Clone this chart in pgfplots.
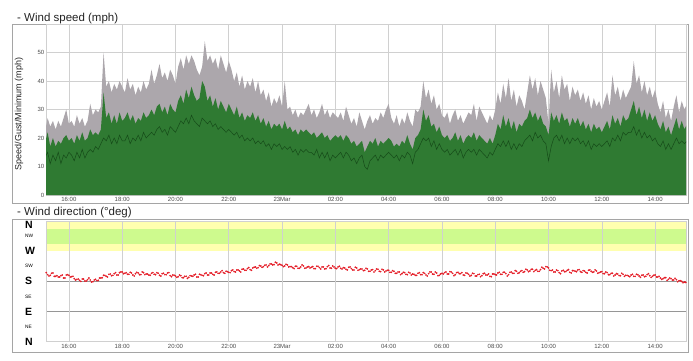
\documentclass[border=0pt]{standalone}
\usepackage{pgfplots}
\pgfplotsset{compat=1.18}
\usepackage{pgfplotstable}
\usepackage{fontspec}
\setmainfont{Liberation Sans}

\definecolor{gustgray}{RGB}{172,167,172}
\definecolor{spdgreen}{RGB}{47,122,50}
\definecolor{mingreen}{RGB}{22,75,25}
\definecolor{bandyellow}{RGB}{255,255,175}
\definecolor{bandgreen}{RGB}{206,250,142}
\definecolor{dotred}{RGB}{228,30,40}
\definecolor{framegray}{RGB}{165,165,165}
\definecolor{gridgray}{RGB}{208,208,208}
\definecolor{linegray}{RGB}{150,150,150}
\definecolor{ticktext}{RGB}{75,75,75}
\definecolor{titletext}{RGB}{35,35,35}

\newcommand{\bigdir}[1]{{\fontsize{10.5}{11}\selectfont\bfseries #1}}
\newcommand{\smalldir}[1]{{\fontsize{4.8}{5}\selectfont #1}}

\pgfplotstableread{
t gust speed min
15.1 22 18 13
15.2 27 22 15
15.3 24 17 11
15.4 26 20 14
15.5 23 17 12
15.6 26 19 15
15.7 24 18 11
15.8 27 20 14
15.9 30 21 13
16.0 25 19 15
16.1 26 20 14
16.2 24 18 12
16.3 28 21 15
16.4 25 19 13
16.5 27 22 16
16.6 24 19 13
16.7 26 20 15
16.8 32 23 16
16.9 28 21 15
17.0 30 22 17
17.1 29 21 16
17.2 31 23 18
17.3 50 36 20
17.4 38 27 19
17.5 40 29 21
17.6 36 25 18
17.7 39 28 20
17.8 37 25 18
17.9 40 29 21
18.0 38 26 19
18.1 36 27 19
18.2 41 29 21
18.3 37 26 18
18.4 39 28 20
18.5 35 25 19
18.6 38 27 21
18.7 36 26 19
18.8 40 29 22
18.9 37 27 20
19.0 39 28 21
19.1 44 30 22
19.2 39 28 21
19.3 42 31 23
19.4 46 32 24
19.5 41 29 22
19.6 43 31 23
19.7 40 28 21
19.8 44 32 24
19.9 42 30 23
20.0 39 29 22
20.1 45 33 24
20.2 48 35 26
20.3 44 32 25
20.4 49 37 27
20.5 46 34 25
20.6 49 38 28
20.7 47 35 26
20.8 44 33 25
20.9 42 34 24
21.0 45 40 27
21.1 54 38 26
21.2 47 33 25
21.3 49 35 26
21.4 46 31 24
21.5 48 34 25
21.6 44 30 23
21.7 49 33 24
21.8 46 31 23
21.9 43 29 22
22.0 47 32 23
22.1 44 30 22
22.2 40 28 21
22.3 43 31 22
22.4 38 27 20
22.5 42 29 21
22.6 37 26 19
22.7 40 28 20
22.8 38 27 19
22.9 41 29 20
23.0 36 26 18
23.1 40 28 19
23.2 35 25 18
23.3 37 27 19
23.4 33 24 17
23.5 36 26 18
23.6 31 23 16
23.7 34 25 18
23.8 32 24 17
23.9 35 25 18
24.0 31 23 16
24.1 40 26 17
24.2 30 23 16
24.3 31 24 17
24.4 28 22 15
24.5 30 23 16
24.6 27 21 14
24.7 29 23 16
24.8 28 22 15
24.9 30 23 16
25.0 32 22 15
25.1 28 21 15
25.2 30 22 14
25.3 27 20 16
25.4 29 21 13
25.5 32 22 15
25.6 28 20 13
25.7 30 21 15
25.8 27 19 12
25.9 29 20 14
26.0 28 21 13
26.1 27 20 14
26.2 29 21 15
26.3 26 19 13
26.4 31 21 15
26.5 28 20 14
26.6 25 18 12
26.7 27 19 13
26.8 24 17 11
26.9 29 18 13
27.0 26 19 14
27.1 23 15 10
27.2 26 17 9
27.3 28 19 12
27.4 25 18 13
27.5 27 20 14
27.6 26 17 12
27.7 29 19 14
27.8 27 18 13
27.9 30 19 14
28.0 32 20 15
28.1 27 19 14
28.2 25 17 13
28.3 28 18 14
28.4 24 17 12
28.5 27 19 14
28.6 25 18 13
28.7 29 21 15
28.8 26 18 14
28.9 24 16 11
29.0 30 20 15
29.1 29 21 16
29.2 31 23 18
29.3 40 30 20
29.4 34 26 19
29.5 37 28 20
29.6 32 24 17
29.7 35 25 19
29.8 30 22 16
29.9 32 24 18
30.0 28 21 16
30.1 27 20 15
30.2 29 21 16
30.3 25 19 14
30.4 28 20 15
30.5 30 22 16
30.6 26 19 14
30.7 28 21 16
30.8 25 18 13
30.9 27 20 15
31.0 29 21 16
31.1 28 20 15
31.2 32 22 16
31.3 26 19 14
31.4 31 21 16
31.5 29 20 15
31.6 27 19 14
31.7 25 18 13
31.8 28 20 15
31.9 26 18 14
32.0 30 21 16
32.1 36 25 18
32.2 32 23 17
32.3 39 28 19
32.4 34 24 17
32.5 41 27 19
32.6 33 23 16
32.7 37 26 18
32.8 31 22 16
32.9 35 25 18
33.0 33 24 17
33.1 30 26 19
33.2 36 27 20
33.3 42 30 21
33.4 37 27 19
33.5 41 29 22
33.6 35 26 20
33.7 40 28 21
33.8 37 25 19
33.9 34 24 18
34.0 25 21 12
34.1 44 29 17
34.2 36 26 20
34.3 40 28 21
34.4 34 25 19
34.5 42 29 21
34.6 37 26 18
34.7 39 27 20
34.8 33 24 18
34.9 38 27 20
35.0 35 25 19
35.1 37 27 20
35.2 33 24 18
35.3 36 26 19
35.4 32 23 17
35.5 35 25 19
35.6 30 22 16
35.7 34 25 18
35.8 31 23 17
35.9 33 24 18
36.0 30 22 17
36.1 33 24 18
36.2 36 26 19
36.3 31 23 17
36.4 42 28 20
36.5 35 25 19
36.6 38 27 21
36.7 33 24 19
36.8 37 28 22
36.9 34 26 21
37.0 36 27 22
37.1 38 30 22
37.2 47 33 24
37.3 39 28 21
37.4 42 31 23
37.5 36 27 20
37.6 40 30 22
37.7 35 26 20
37.8 38 29 21
37.9 34 26 19
38.0 37 28 20
38.1 32 25 18
38.2 29 23 17
38.3 33 26 19
38.4 27 22 16
38.5 30 24 18
38.6 26 21 16
38.7 31 24 18
38.8 35 27 20
38.9 29 23 18
39.0 33 26 19
39.1 30 23 18
39.2 32 25 19
}\windtable

\pgfplotstableread{
t dir
15.1 203
15.15 206
15.2 200
15.25 196
15.3 198
15.35 204
15.4 205
15.45 195
15.5 195
15.55 197
15.6 193
15.65 193
15.7 197
15.75 199
15.8 190
15.85 190
15.9 199
15.95 200
16.0 198
16.05 193
16.1 194
16.15 195
16.2 188
16.25 184
16.3 186
16.35 187
16.4 183
16.45 180
16.5 187
16.55 187
16.6 181
16.65 181
16.7 185
16.75 190
16.8 184
16.85 178
16.9 179
16.95 184
17.0 186
17.05 182
17.1 183
17.15 190
17.2 190
17.25 191
17.3 198
17.35 198
17.4 195
17.45 193
17.5 201
17.55 202
17.6 197
17.65 198
17.7 203
17.75 206
17.8 199
17.85 199
17.9 206
17.95 208
18.0 208
18.05 203
18.1 204
18.15 206
18.2 201
18.25 201
18.3 207
18.35 205
18.4 199
18.45 196
18.5 203
18.55 207
18.6 205
18.65 200
18.7 200
18.75 208
18.8 206
18.85 200
18.9 202
18.95 202
19.0 199
19.05 198
19.1 204
19.15 206
19.2 201
19.25 200
19.3 206
19.35 204
19.4 198
19.45 196
19.5 203
19.55 204
19.6 200
19.65 200
19.7 205
19.75 206
19.8 197
19.85 194
19.9 199
19.95 198
20.0 196
20.05 192
20.1 194
20.15 199
20.2 197
20.25 191
20.3 191
20.35 195
20.4 195
20.45 189
20.5 192
20.55 197
20.6 196
20.65 195
20.7 199
20.75 201
20.8 193
20.85 193
20.9 201
20.95 200
21.0 198
21.05 197
21.1 203
21.15 205
21.2 199
21.25 199
21.3 205
21.35 205
21.4 201
21.45 199
21.5 207
21.55 208
21.6 204
21.65 204
21.7 208
21.75 212
21.8 206
21.85 204
21.9 210
21.95 209
22.0 207
22.05 206
22.1 212
22.15 214
22.2 209
22.25 208
22.3 214
22.35 214
22.4 211
22.45 208
22.5 216
22.55 217
22.6 213
22.65 213
22.7 218
22.75 221
22.8 215
22.85 213
22.9 220
22.95 222
23.0 223
23.05 219
23.1 221
23.15 227
23.2 226
23.25 222
23.3 224
23.35 228
23.4 229
23.45 223
23.5 227
23.55 232
23.6 232
23.65 229
23.7 230
23.75 237
23.8 235
23.85 229
23.9 231
23.95 230
24.0 228
24.05 224
24.1 226
24.15 231
24.2 229
24.25 223
24.3 224
24.35 224
24.4 221
24.45 218
24.5 225
24.55 225
24.6 219
24.65 219
24.7 223
24.75 229
24.8 226
24.85 219
24.9 220
24.95 223
25.0 224
25.05 220
25.1 222
25.15 224
25.2 218
25.25 218
25.3 225
25.35 225
25.4 221
25.45 217
25.5 223
25.55 223
25.6 217
25.65 218
25.7 224
25.75 227
25.8 220
25.85 219
25.9 226
25.95 223
26.0 219
26.05 218
26.1 223
26.15 225
26.2 219
26.25 217
26.3 221
26.35 220
26.4 216
26.45 214
26.5 222
26.55 223
26.6 218
26.65 214
26.7 214
26.75 222
26.8 220
26.85 213
26.9 215
26.95 217
27.0 217
27.05 212
27.1 213
27.15 219
27.2 217
27.25 210
27.3 210
27.35 214
27.4 215
27.45 208
27.5 212
27.55 217
27.6 216
27.65 210
27.7 209
27.75 216
27.8 214
27.85 208
27.9 211
27.95 213
28.0 213
28.05 207
28.1 207
28.15 212
28.2 210
28.25 204
28.3 204
28.35 208
28.4 208
28.45 200
28.5 203
28.55 207
28.6 206
28.65 201
28.7 200
28.75 207
28.8 205
28.85 199
28.9 202
28.95 201
29.0 198
29.05 198
29.1 204
29.15 206
29.2 200
29.25 200
29.3 206
29.35 204
29.4 199
29.45 196
29.5 203
29.55 208
29.6 208
29.65 202
29.7 201
29.75 208
29.8 205
29.85 197
29.9 198
29.95 202
30.0 204
30.05 202
30.1 206
30.15 208
30.2 202
30.25 202
30.3 209
30.35 208
30.4 204
30.45 197
30.5 200
30.55 206
30.6 207
30.65 203
30.7 203
30.75 206
30.8 199
30.85 198
30.9 205
30.95 204
31.0 201
31.05 196
31.1 198
31.15 204
31.2 203
31.25 196
31.3 196
31.35 200
31.4 201
31.45 194
31.5 197
31.55 203
31.6 204
31.65 199
31.7 199
31.75 202
31.8 195
31.85 194
31.9 202
31.95 202
32.0 200
32.05 199
32.1 205
32.15 207
32.2 201
32.25 201
32.3 207
32.35 207
32.4 203
32.45 196
32.5 200
32.55 207
32.6 208
32.65 204
32.7 204
32.75 212
32.8 210
32.85 204
32.9 206
32.95 210
33.0 212
33.05 207
33.1 209
33.15 216
33.2 214
33.25 209
33.3 211
33.35 216
33.4 216
33.45 209
33.5 213
33.55 215
33.6 210
33.65 210
33.7 215
33.75 222
33.8 219
33.85 217
33.9 224
33.95 223
34.0 220
34.05 213
34.1 212
34.15 214
34.2 208
34.25 208
34.3 214
34.35 212
34.4 206
34.45 203
34.5 211
34.55 213
34.6 209
34.65 209
34.7 213
34.75 215
34.8 207
34.85 205
34.9 212
34.95 212
35.0 210
35.05 209
35.1 214
35.15 215
35.2 209
35.25 207
35.3 212
35.35 211
35.4 207
35.45 205
35.5 213
35.55 214
35.6 210
35.65 207
35.7 208
35.75 214
35.8 211
35.85 204
35.9 206
35.95 208
36.0 209
36.05 203
36.1 203
36.15 208
36.2 206
36.25 200
36.3 200
36.35 204
36.4 204
36.45 196
36.5 199
36.55 203
36.6 202
36.65 197
36.7 197
36.75 204
36.8 201
36.85 195
36.9 198
36.95 198
37.0 196
37.05 194
37.1 199
37.15 201
37.2 195
37.25 195
37.3 201
37.35 200
37.4 196
37.45 192
37.5 198
37.55 199
37.6 194
37.65 195
37.7 200
37.75 203
37.8 197
37.85 192
37.9 195
37.95 198
38.0 199
38.05 193
38.1 193
38.15 195
38.2 190
38.25 186
38.3 188
38.35 191
38.4 191
38.45 183
38.5 186
38.55 190
38.6 188
38.65 184
38.7 184
38.75 189
38.8 185
38.85 179
38.9 182
38.95 182
39.0 180
39.05 176
39.1 178
39.15 177
39.2 177
}\dirtable

\begin{document}
\begin{tikzpicture}
\path (0pt,0pt) rectangle (693pt,-360pt);

% panel frames
\draw[framegray, line width=0.6pt] (12pt,-24pt) rectangle (688pt,-203pt);
\draw[framegray, line width=0.6pt] (12pt,-219.5pt) rectangle (688pt,-352pt);

% titles
\node[anchor=base west, inner sep=0pt, text=titletext, font=\fontsize{11.5}{12}\selectfont] at (17pt,-21pt) {- Wind speed (mph)};
\node[anchor=base west, inner sep=0pt, text=titletext, font=\fontsize{11.5}{12}\selectfont] at (17pt,-215.5pt) {- Wind direction (°deg)};
\node[rotate=90, inner sep=0pt, text=titletext, font=\fontsize{9}{10}\selectfont] at (19pt,-114pt) {Speed/Gust/Minimum (mph)};

% ---------- wind speed ----------
\begin{axis}[
  at={(46pt,-24pt)}, anchor=north west,
  width=640pt, height=171pt, scale only axis,
  xmin=15.14, xmax=39.16, ymin=0, ymax=60,
  xtick={16,18,...,38},
  xticklabels={16:00,18:00,20:00,22:00,23Mar,02:00,04:00,06:00,08:00,10:00,12:00,14:00},
  ytick={0,10,...,50},
  yticklabels={0,10,20,30,40,50},
  ticklabel style={font=\fontsize{6}{7}\selectfont, text=ticktext},
  yticklabel style={inner sep=1.5pt},
  xticklabel style={inner sep=2pt},
  major tick length=0pt,
  grid=major, grid style={gridgray, line width=0.6pt},
  axis line style={gridgray, line width=0.6pt},
]
\addplot[draw=none, fill=gustgray] table[x=t, y=gust] {\windtable} \closedcycle;
\addplot[draw=none, fill=spdgreen] table[x=t, y=speed] {\windtable} \closedcycle;
\addplot[mingreen, line width=0.5pt] table[x=t, y=min] {\windtable};
\end{axis}

% ---------- wind direction ----------
\begin{axis}[
  at={(46pt,-221pt)}, anchor=north west,
  width=640pt, height=120.7pt, scale only axis,
  xmin=15.14, xmax=39.16, ymin=0, ymax=360,
  xtick={16,18,...,38},
  xticklabels={16:00,18:00,20:00,22:00,23Mar,02:00,04:00,06:00,08:00,10:00,12:00,14:00},
  ytick={0,45,...,360},
  yticklabels={\bigdir{N},\smalldir{NE},\bigdir{E},\smalldir{SE},\bigdir{S},\smalldir{SW},\bigdir{W},\smalldir{NW},\raisebox{-7pt}[0pt][0pt]{\bigdir{N}}},
  xticklabel style={font=\fontsize{6}{7}\selectfont, text=ticktext, inner sep=2pt},
  yticklabel style={anchor=west, inner sep=0pt, xshift=-21pt, text=black},
  major tick length=0pt,
  xmajorgrids=true, ymajorgrids=false,
  grid style={gridgray, line width=0.6pt},
  axis line style={gridgray, line width=0.6pt},
  axis on top,
  clip=true,
]
\addplot[draw=none, fill=bandyellow] coordinates {(15,270) (40,270) (40,360) (15,360)} -- cycle;
\addplot[draw=none, fill=bandgreen] coordinates {(15,292.5) (40,292.5) (40,337.5) (15,337.5)} -- cycle;
\addplot[linegray, line width=0.6pt] coordinates {(15,180) (40,180)};
\addplot[linegray, line width=0.6pt] coordinates {(15,90) (40,90)};
\addplot[only marks, mark=*, mark size=0.65pt, dotred] table[x=t, y=dir] {\dirtable};
\end{axis}
\end{tikzpicture}
\end{document}
